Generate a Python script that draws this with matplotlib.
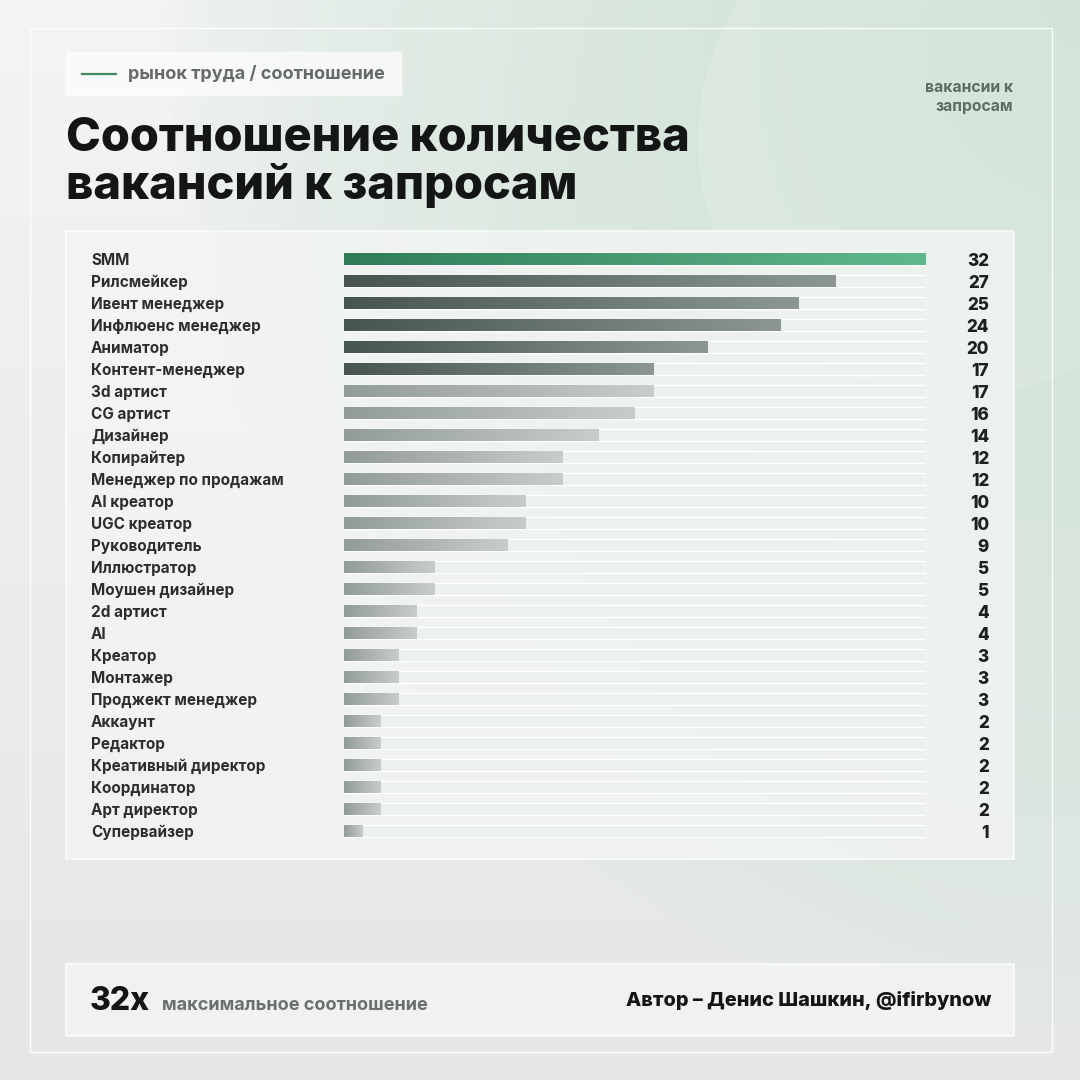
import matplotlib.pyplot as plt
import matplotlib.transforms as mtransforms
import numpy as np
from matplotlib.colors import LinearSegmentedColormap, to_rgb
from matplotlib.patches import Rectangle, Circle

plt.rcParams['font.family'] = ['Inter', 'DejaVu Sans']

# data
roles = ['SMM', 'Рилсмейкер', 'Ивент менеджер', 'Инфлюенс менеджер', 'Аниматор',
         'Контент-менеджер', '3d артист', 'CG артист', 'Дизайнер', 'Копирайтер',
         'Менеджер по продажам', 'AI креатор', 'UGC креатор', 'Руководитель',
         'Иллюстратор', 'Моушен дизайнер', '2d артист', 'AI', 'Креатор', 'Монтажер',
         'Проджект менеджер', 'Аккаунт', 'Редактор', 'Креативный директор',
         'Координатор', 'Арт директор', 'Супервайзер']
ratios = [32, 27, 25, 24, 20, 17, 17, 16, 14, 12, 12, 10, 10, 9, 5, 5, 4, 4, 3, 3,
          3, 2, 2, 2, 2, 2, 1]
max_ratio = 32

title = 'Соотношение количества\nвакансий к запросам'
tag = 'рынок труда / соотношение'
corner_note = 'вакансии к\nзапросам'
big_note = '32x'
big_note_text = 'максимальное соотношение'
author = 'Автор – Денис Шашкин, @ifirbynow'

W = H = 1080
fig = plt.figure(figsize=(10.8, 10.8), dpi=100)

# background in pixel coordinates
bg = fig.add_axes([0, 0, 1, 1])
bg.set_xlim(0, W)
bg.set_ylim(H, 0)
bg.axis('off')

yy, xx = np.mgrid[0:H:4, 0:W:4]
c_white = np.array(to_rgb('#f3f4f3'))
c_bottom = np.array(to_rgb('#e4e7e5'))
c_mint = np.array(to_rgb('#cce1d4'))
tv = (yy / H)[..., None]
img = c_white * (1 - tv) + c_bottom * tv
d = np.sqrt(((W - xx) / W) ** 2 + 0.8 * (yy / H) ** 2)
m = np.clip(1 - d / 0.85, 0, 1)[..., None] ** 0.6
img = img * (1 - m) + c_mint * m
bg.imshow(img, extent=(0, W, H, 0), aspect='auto', zorder=0)

bg.add_patch(Circle((955, 140), 256, facecolor='white', alpha=0.12,
                    edgecolor='white', lw=1.3, zorder=1))
bg.add_patch(Rectangle((30, 28), 1022, 1024, fill=False, edgecolor='white',
                       lw=1, alpha=0.9, zorder=2))

# tag box
bg.add_patch(Rectangle((66, 52), 335, 43, facecolor='white', alpha=0.65,
                       edgecolor='white', lw=1, zorder=2))
bg.plot([82, 116], [74, 74], color='#3f8a63', lw=1.6, zorder=3)
bg.text(128, 75, tag, fontsize=13, color='#666a68', fontweight='bold',
        va='center', ha='left', zorder=3)

bg.text(66, 163, title, fontsize=33.8, fontweight='heavy', color='#141615',
        va='center', ha='left', linespacing=1.1, zorder=3)
bg.text(1013, 97, corner_note, fontsize=11.3, color='#5f6b65', fontweight='bold',
        va='center', ha='right', linespacing=1.3, zorder=3)

# chart panel
bg.add_patch(Rectangle((66, 231), 948, 628, facecolor='#f4f6f5', alpha=0.75,
                       edgecolor='white', lw=1.2, zorder=2))

# footer panel
bg.add_patch(Rectangle((66, 964), 948, 72, facecolor='#f3f5f4', alpha=0.8,
                       edgecolor='white', lw=1.2, zorder=2))
bg.text(90, 1001, big_note, fontsize=23, fontweight='heavy', color='#141615',
        va='center', ha='left', zorder=3)
bg.text(162, 1005, big_note_text, fontsize=13, fontweight='bold',
        color='#6b6f6d', va='center', ha='left', zorder=3)
bg.text(991, 1001, author, fontsize=14.3, fontweight='heavy', color='#141615',
        va='center', ha='right', zorder=3)

# bar axes
ax = fig.add_axes([344 / W, 1 - 842 / H, 582 / W, 594 / H])
ax.set_xlim(0, max_ratio)
ax.set_ylim(len(roles) - 0.5, -0.5)
ax.axis('off')
ax.patch.set_alpha(0)

cm_green = LinearSegmentedColormap.from_list('g', ['#2f7d57', '#62b88d'])
cm_dark = LinearSegmentedColormap.from_list('d', ['#46554e', '#8c9792'])
cm_light = LinearSegmentedColormap.from_list('l', ['#929c97', '#c8cdca'])

row_tr = mtransforms.blended_transform_factory(bg.transData, ax.transData)

h = 0.52
grad = np.linspace(0, 1, 256)[None, :]
for i, (name, v) in enumerate(zip(roles, ratios)):
    ax.barh(i, max_ratio, height=h, color='#edf1ee', edgecolor='white', lw=1,
            zorder=1)
    if i == 0:
        cm = cm_green
    elif i <= 5:
        cm = cm_dark
    else:
        cm = cm_light
    bar = ax.barh(i, v, height=h, color='none', lw=0, zorder=2)[0]
    im = ax.imshow(grad, cmap=cm, extent=(0, v, i + h / 2, i - h / 2),
                   aspect='auto', zorder=2)
    im.set_clip_path(bar)
    ax.text(91, i, name, transform=row_tr, fontsize=11, fontweight='bold',
            color='#2b2e2c', va='center_baseline', ha='left')
    ax.text(989, i, str(v), transform=row_tr, fontsize=12.3, fontweight='heavy',
            color='#1d201f', va='center_baseline', ha='right')

ax.set_ylim(len(roles) - 0.5, -0.5)
ax.set_xlim(0, max_ratio)

fig.savefig('out.png', dpi=100)
